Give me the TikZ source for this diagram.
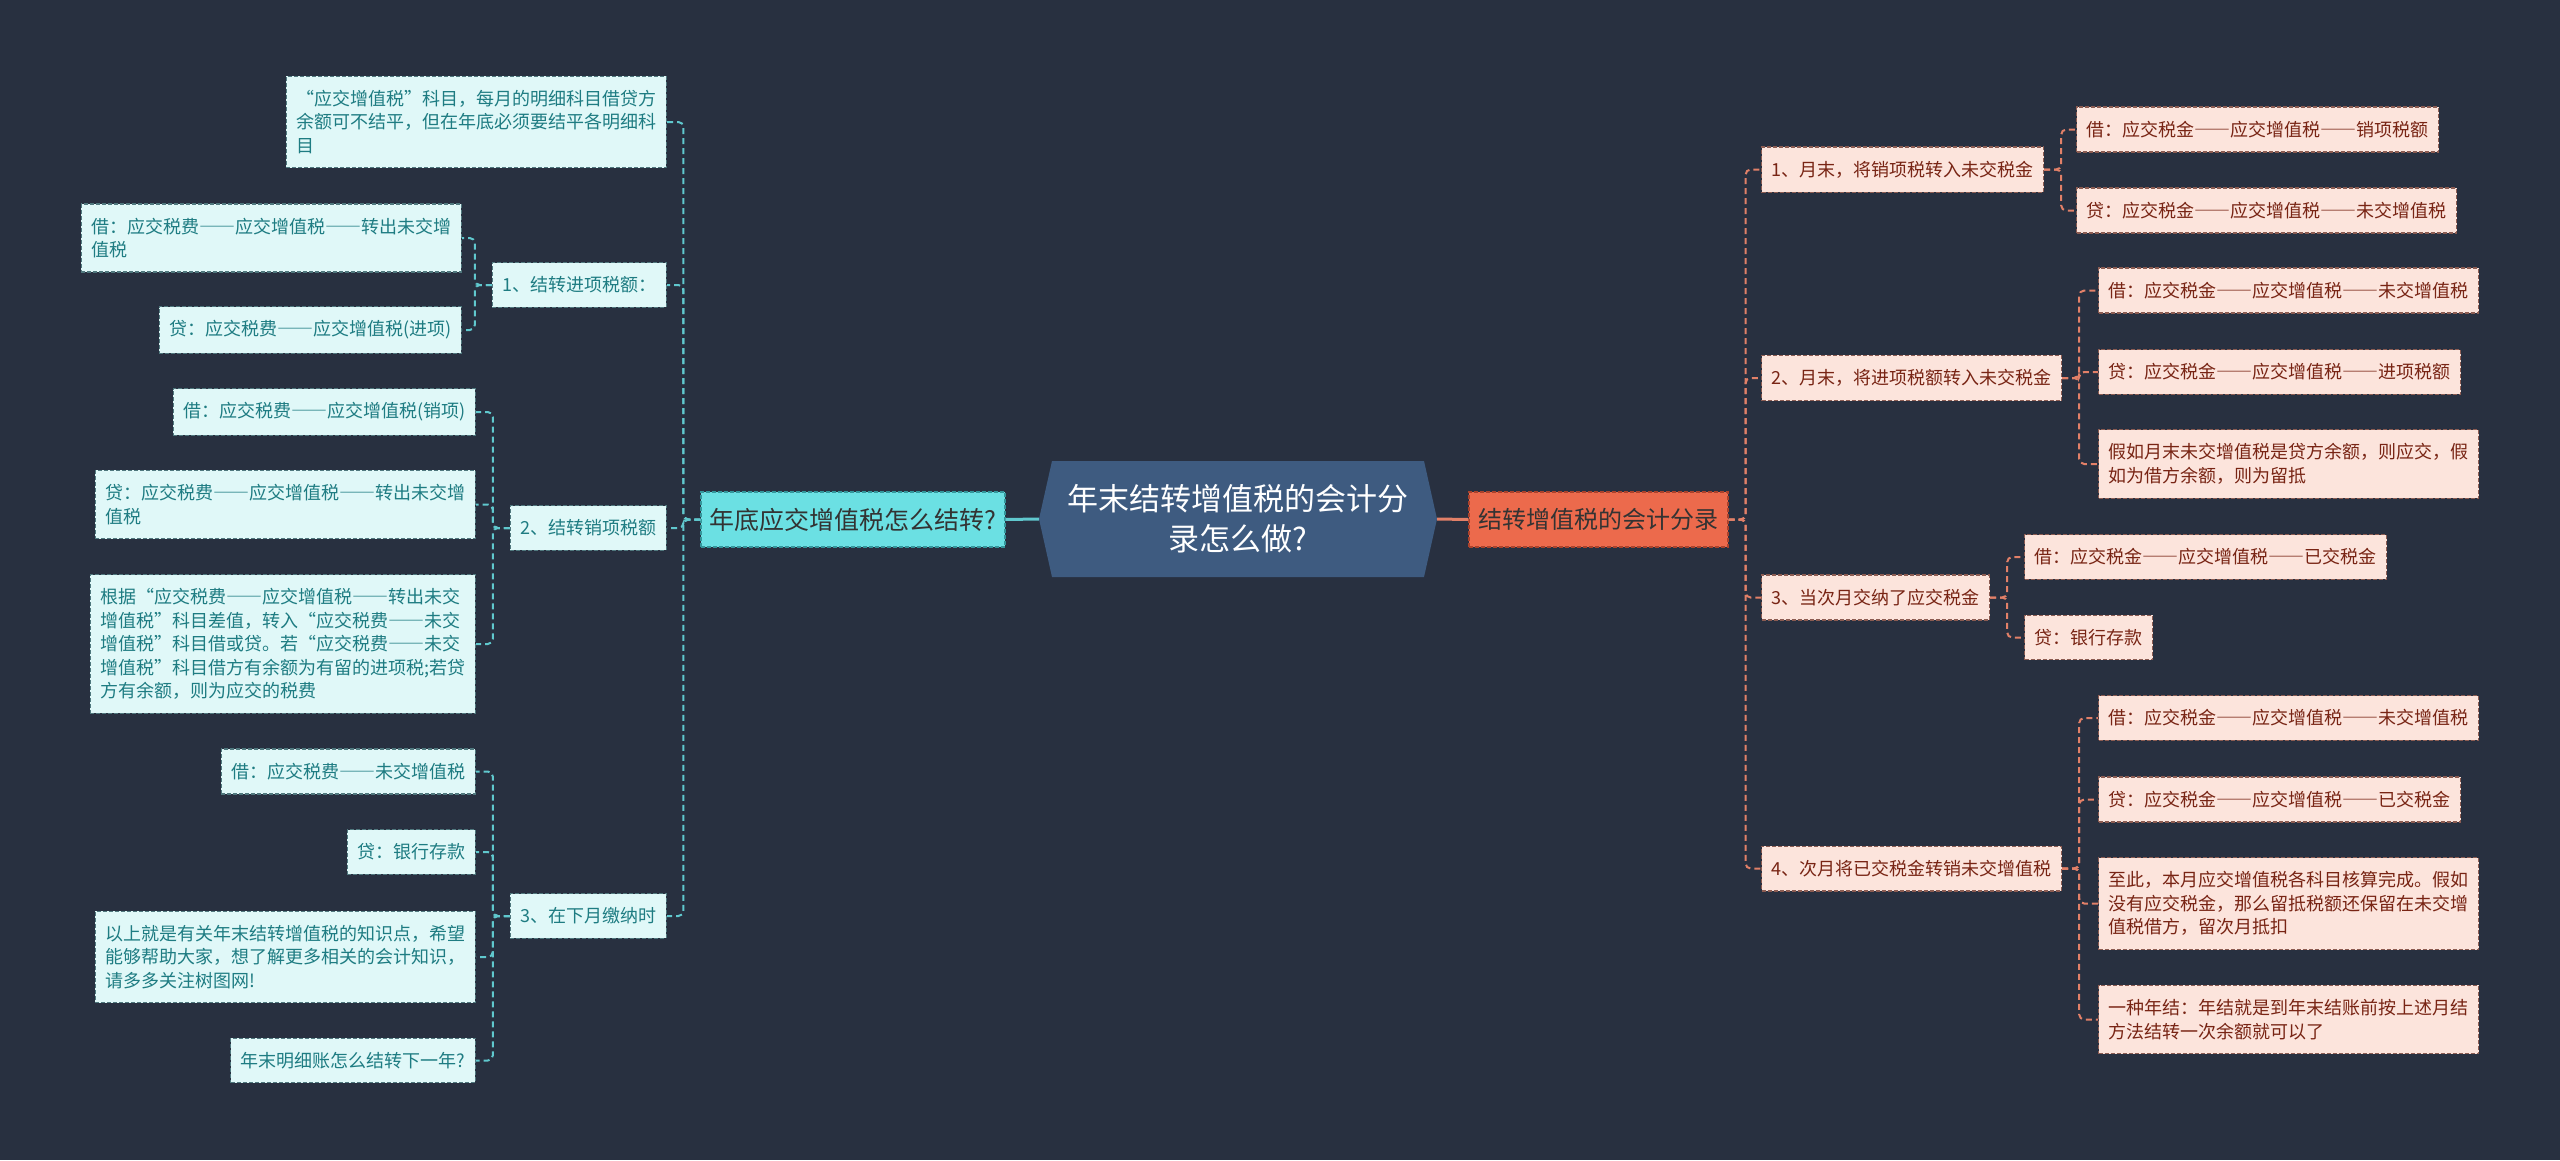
\documentclass[tikz,border=0pt]{standalone}
\usepackage{fontspec}
\setmainfont{Noto Sans CJK SC}
\newfontfamily\fwfont[RawFeature=+fwid]{Noto Sans CJK SC}
\newcommand{\dd}{{\fwfont ——}}
\definecolor{bgdark}{RGB}{40,48,64}
\definecolor{centrefill}{RGB}{62,91,128}
\definecolor{lrootfill}{RGB}{107,224,227}
\definecolor{lrootedge}{RGB}{52,150,155}
\definecolor{rrootfill}{RGB}{236,106,76}
\definecolor{rrootedge}{RGB}{170,66,44}
\definecolor{lleaffill}{RGB}{224,248,248}
\definecolor{lleafedge}{RGB}{80,120,126}
\definecolor{lleaftext}{RGB}{30,124,130}
\definecolor{rleaffill}{RGB}{252,228,220}
\definecolor{rleafedge}{RGB}{140,92,82}
\definecolor{rleaftext}{RGB}{120,36,20}
\definecolor{llinec}{RGB}{96,200,206}
\definecolor{rlinec}{RGB}{226,128,104}

\begin{document}
\begin{tikzpicture}[x=1pt,y=1pt,yscale=-1,
  lleaf/.style={draw=lleafedge, fill=lleaffill, text=lleaftext, dash pattern={on 4pt off 2pt}, line width=1.2pt,
    inner xsep=10pt, inner ysep=14pt, minimum height=43pt, align=left, font={\fontsize{18}{23.4}\selectfont}, anchor=east},
  rleaf/.style={draw=rleafedge, fill=rleaffill, text=rleaftext, dash pattern={on 4pt off 2pt}, line width=1.2pt,
    inner xsep=10pt, inner ysep=14pt, minimum height=43pt, align=left, font={\fontsize{18}{23.4}\selectfont}, anchor=west},
  lbranch/.style={draw=llinec, line width=2pt, dash pattern={on 6pt off 4pt}, rounded corners=5pt},
  rbranch/.style={draw=rlinec, line width=2pt, dash pattern={on 6pt off 4pt}, rounded corners=5pt}]
	\useasboundingbox (0,0) rectangle (2560,1160);
	\fill[bgdark] (0,0) rectangle (2560,1160);
	
	% centre shape
	\fill[centrefill] (1039,519) -- (1052,461) -- (1424,461) -- (1437,519) -- (1424,577) -- (1052,577) -- cycle;
	\node[minimum width=398pt, minimum height=116pt, align=center, text=white, font={\fontsize{31}{40}\selectfont}] (centre) at (1238,519) {年末结转增值税的会计分\\录怎么做?};
	
	% two main branches
	\node[draw=lrootedge, fill=lrootfill, text=black!80, dash pattern={on 4pt off 2pt}, line width=1.2pt, minimum width=304pt, minimum height=55pt, font={\fontsize{25}{30}\selectfont}] (lroot) at (853,519.5) {年底应交增值税怎么结转?};
	\node[draw=rrootedge, fill=rrootfill, text=black!80, dash pattern={on 4pt off 2pt}, line width=1.2pt, minimum width=259pt, minimum height=55pt, font={\fontsize{24}{30}\selectfont}] (rroot) at (1598.5,519.5) {结转增值税的会计分录};
	\draw[llinec, line width=3pt] (centre.west) -- (lroot.east);
	\draw[rlinec, line width=3pt] (centre.east) -- (rroot.west);
	
	% left side
	\node[lleaf] (la) at (667,122) {“应交增值税”科目，每月的明细科目借贷方\\余额可不结平，但在年底必须要结平各明细科\\目};
	\node[lleaf] (la1) at (667,285) {1、结转进项税额：};
	\node[lleaf] (la1a) at (462,238) {借：应交税费\dd 应交增值税\dd 转出未交增\\值税};
	\node[lleaf] (la1b) at (462,330) {贷：应交税费\dd 应交增值税(进项)};
	\node[lleaf] (la2) at (667,528) {2、结转销项税额};
	\node[lleaf] (la2a) at (476,412) {借：应交税费\dd 应交增值税(销项)};
	\node[lleaf] (la2b) at (476,504.5) {贷：应交税费\dd 应交增值税\dd 转出未交增\\值税};
	\node[lleaf] (la2c) at (476,644) {根据“应交税费\dd 应交增值税\dd 转出未交\\增值税”科目差值，转入“应交税费\dd 未交\\增值税”科目借或贷。若“应交税费\dd 未交\\增值税”科目借方有余额为有留的进项税;若贷\\方有余额，则为应交的税费};
	\node[lleaf] (la3) at (667,916) {3、在下月缴纳时};
	\node[lleaf] (la3a) at (476,771.5) {借：应交税费\dd 未交增值税};
	\node[lleaf] (la3b) at (476,852) {贷：银行存款};
	\node[lleaf] (la3c) at (476,957) {以上就是有关年末结转增值税的知识点，希望\\能够帮助大家，想了解更多相关的会计知识，\\请多多关注树图网!};
	\node[lleaf] (la3d) at (476,1060.5) {年末明细账怎么结转下一年?};
	
	\draw[lbranch] (lroot.west) -- ++(-17,0) |- (la.east);
	\draw[lbranch] (lroot.west) -- ++(-17,0) |- (la1.east);
	\draw[lbranch] (lroot.west) -- ++(-17,0) |- (la2.east);
	\draw[lbranch] (lroot.west) -- ++(-17,0) |- (la3.east);
	\draw[lbranch] (la1.west) -- ++(-17,0) |- (la1a.east);
	\draw[lbranch] (la1.west) -- ++(-17,0) |- (la1b.east);
	\draw[lbranch] (la2.west) -- ++(-17,0) |- (la2a.east);
	\draw[lbranch] (la2.west) -- ++(-17,0) |- (la2b.east);
	\draw[lbranch] (la2.west) -- ++(-17,0) |- (la2c.east);
	\draw[lbranch] (la3.west) -- ++(-17,0) |- (la3a.east);
	\draw[lbranch] (la3.west) -- ++(-17,0) |- (la3b.east);
	\draw[lbranch] (la3.west) -- ++(-17,0) |- (la3c.east);
	\draw[lbranch] (la3.west) -- ++(-17,0) |- (la3d.east);
	
	% right side
	\node[rleaf] (ra1) at (1761,169.5) {1、月末，将销项税转入未交税金};
	\node[rleaf] (ra1a) at (2076,129.5) {借：应交税金\dd 应交增值税\dd 销项税额};
	\node[rleaf] (ra1b) at (2076,210.5) {贷：应交税金\dd 应交增值税\dd 未交增值税};
	\node[rleaf] (ra2) at (1761,378) {2、月末，将进项税额转入未交税金};
	\node[rleaf] (ra2a) at (2098,290.5) {借：应交税金\dd 应交增值税\dd 未交增值税};
	\node[rleaf] (ra2b) at (2098,372) {贷：应交税金\dd 应交增值税\dd 进项税额};
	\node[rleaf] (ra2c) at (2098,464) {假如月末未交增值税是贷方余额，则应交，假\\如为借方余额，则为留抵};
	\node[rleaf] (ra3) at (1761,597.5) {3、当次月交纳了应交税金};
	\node[rleaf] (ra3a) at (2024,557) {借：应交税金\dd 应交增值税\dd 已交税金};
	\node[rleaf] (ra3b) at (2024,637.5) {贷：银行存款};
	\node[rleaf] (ra4) at (1761,868.5) {4、次月将已交税金转销未交增值税};
	\node[rleaf] (ra4a) at (2098,718) {借：应交税金\dd 应交增值税\dd 未交增值税};
	\node[rleaf] (ra4b) at (2098,799.5) {贷：应交税金\dd 应交增值税\dd 已交税金};
	\node[rleaf] (ra4c) at (2098,903.5) {至此，本月应交增值税各科目核算完成。假如\\没有应交税金，那么留抵税额还保留在未交增\\值税借方，留次月抵扣};
	\node[rleaf] (ra4d) at (2098,1019.5) {一种年结：年结就是到年末结账前按上述月结\\方法结转一次余额就可以了};
	
	\draw[rbranch] (rroot.east) -- ++(17,0) |- (ra1.west);
	\draw[rbranch] (rroot.east) -- ++(17,0) |- (ra2.west);
	\draw[rbranch] (rroot.east) -- ++(17,0) |- (ra3.west);
	\draw[rbranch] (rroot.east) -- ++(17,0) |- (ra4.west);
	\draw[rbranch] (ra1.east) -- ++(17,0) |- (ra1a.west);
	\draw[rbranch] (ra1.east) -- ++(17,0) |- (ra1b.west);
	\draw[rbranch] (ra2.east) -- ++(17,0) |- (ra2a.west);
	\draw[rbranch] (ra2.east) -- ++(17,0) |- (ra2b.west);
	\draw[rbranch] (ra2.east) -- ++(17,0) |- (ra2c.west);
	\draw[rbranch] (ra3.east) -- ++(17,0) |- (ra3a.west);
	\draw[rbranch] (ra3.east) -- ++(17,0) |- (ra3b.west);
	\draw[rbranch] (ra4.east) -- ++(17,0) |- (ra4a.west);
	\draw[rbranch] (ra4.east) -- ++(17,0) |- (ra4b.west);
	\draw[rbranch] (ra4.east) -- ++(17,0) |- (ra4c.west);
	\draw[rbranch] (ra4.east) -- ++(17,0) |- (ra4d.west);
\end{tikzpicture}
\end{document}
